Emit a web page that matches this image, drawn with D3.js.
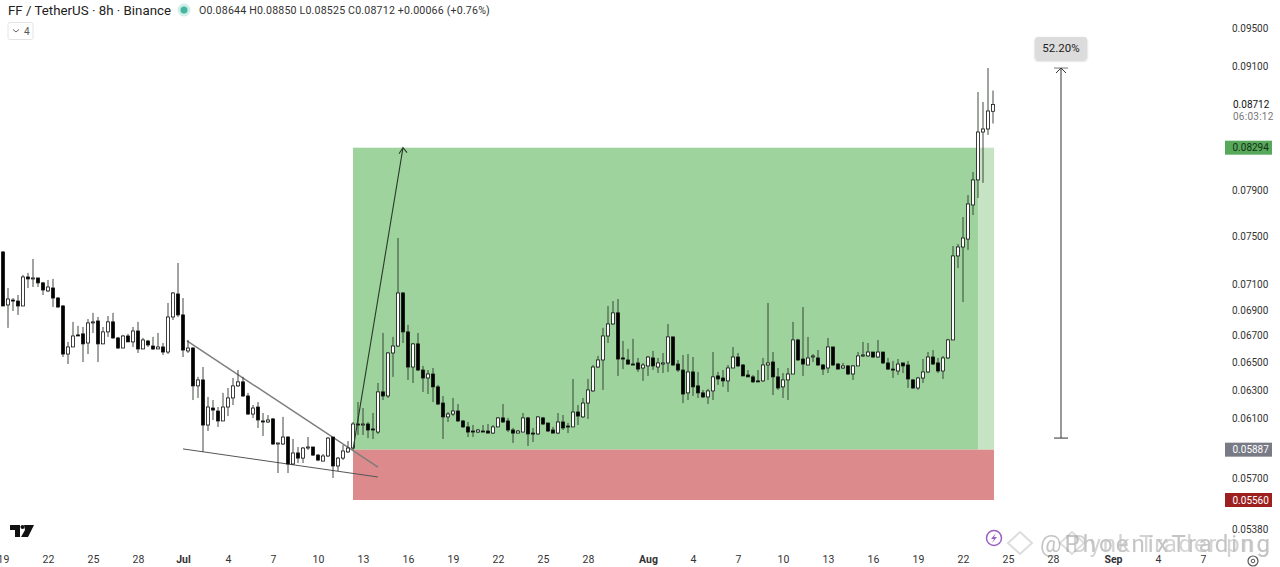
<!DOCTYPE html>
<html>
<head>
<meta charset="utf-8">
<script src="https://cdn.jsdelivr.net/npm/d3@7"></script>
<style>
  html, body { margin: 0; padding: 0; background: #fff; }
  svg { display: block; }
  text { font-family: Roboto, "Noto Sans", sans-serif; }
</style>
</head>
<body>
<svg id="chart" width="1280" height="567"></svg>
<script>
// candles, 8h each from 19 Jun, prices in 1/100000 USDT
let opens = [
  7368,6938,6977,6969,6930,7162,7146,7154,7114,7049,
  7073,6993,6930,6562,6615,6706,6714,6645,6798,6813,
  6638,6729,6806,6683,6607,6698,6653,6736,6600,6660,
  6622,6600,6615,6577,6844,7025,6860,6585,6607,6329,
  6372,6054,6172,6151,6082,6179,6243,6329,6358,6257,
  6130,6179,6082,6075,6096,5925,5925,5972,5792,5865,
  5831,5898,5905,5851,5811,5845,5972,5779,5831,5872,
  5898,6061,6054,6061,6027,6006,6286,6257,6570,6622,
  7033,6729,6466,6638,6444,6386,6415,6322,6207,6110,
  6130,6151,6082,6041,6013,6006,6013,6013,5999,6041,
  6103,6082,6020,5999,6006,6103,5999,5993,6103,6068,
  6020,5999,6075,6047,6041,6144,6110,6207,6293,6466,
  6518,6698,6790,6876,6533,6518,6488,6496,6459,6474,
  6533,6466,6488,6496,6691,6488,6444,6279,6430,6329,
  6279,6250,6293,6401,6386,6365,6459,6540,6481,6408,
  6394,6365,6365,6481,6503,6394,6322,6372,6415,6668,
  6525,6481,6540,6533,6481,6459,6615,6488,6459,6474,
  6415,6474,6548,6548,6577,6540,6577,6496,6451,6437,
  6496,6481,6372,6314,6386,6430,6540,6496,6437,6533,
  6668,7335,7410,7477,7772,7996,8443,8472,8644
]
let highs = [
  7377,7073,6993,7017,7179,7195,7310,7154,7122,7138,
  7146,7001,6938,6653,6806,6775,6767,6829,6876,6844,
  6767,6852,6876,6691,6706,6714,6767,6806,6683,6668,
  6691,6721,6645,6954,7041,7277,6993,6668,6615,6394,
  6466,6250,6228,6179,6279,6314,6386,6444,6394,6279,
  6193,6214,6137,6123,6103,5932,6110,5979,5959,5905,
  5905,5972,5905,5858,5858,5972,5972,5838,5918,5945,
  6075,6214,6172,6075,6137,6350,6721,6577,6691,7486,
  7041,6783,6645,6721,6474,6444,6459,6336,6257,6144,
  6243,6200,6089,6075,6054,6027,6054,6061,6054,6110,
  6200,6103,6034,6020,6137,6110,6034,6116,6110,6068,
  6041,6137,6123,6068,6379,6193,6243,6379,6481,6548,
  6760,6930,6969,6985,6660,6600,6676,6533,6496,6548,
  6585,6533,6570,6790,6691,6518,6555,6562,6540,6430,
  6300,6307,6577,6430,6444,6481,6615,6570,6488,6444,
  6408,6444,6533,6954,6577,6459,6422,6459,6806,6676,
  6922,6691,6562,6592,6488,6683,6615,6496,6496,6481,
  6481,6577,6653,6645,6577,6668,6577,6533,6511,6525,
  6496,6511,6379,6394,6525,6577,6592,6533,6548,6676,
  7418,7435,7666,7860,8069,8835,8736,9079,8850
]
let lows = [
  6930,6760,6891,6860,6930,7073,7081,7081,7017,7041,
  6922,6915,6540,6488,6615,6698,6503,6562,6721,6503,
  6638,6691,6676,6600,6607,6653,6615,6570,6600,6615,
  6592,6600,6555,6562,6821,6844,6540,6570,6228,6243,
  5872,6013,6089,6041,6082,6116,6193,6322,6250,6123,
  6103,6034,5979,6068,5918,5733,5918,5733,5785,5798,
  5798,5885,5845,5811,5811,5838,5701,5746,5818,5865,
  5892,5986,5986,5965,5959,5993,6228,6243,6394,6615,
  6645,6372,6350,6437,6286,6271,6214,6193,5959,6075,
  6116,6075,6034,5972,5972,5999,6006,5999,5993,6041,
  6068,6006,5932,5999,6006,5912,5938,5986,6054,6006,
  5999,5993,6020,5999,6041,6054,6103,6096,6286,6459,
  6300,6645,6783,6401,6451,6481,6481,6430,6365,6401,
  6444,6422,6422,6430,6474,6430,6207,6228,6257,6243,
  6243,6200,6228,6336,6322,6286,6459,6466,6401,6394,
  6350,6358,6358,6372,6264,6300,6243,6228,6415,6511,
  6401,6481,6503,6474,6408,6422,6474,6451,6451,6408,
  6372,6474,6540,6540,6533,6533,6488,6444,6386,6408,
  6422,6314,6307,6300,6350,6422,6481,6422,6379,6525,
  6668,7235,6961,7385,7684,7834,7969,8415,8525
]
let closes = [
  6930,6985,6969,6930,7162,7146,7154,7114,7057,7081,
  6993,6922,6562,6615,6698,6698,6638,6798,6806,6638,
  6729,6806,6683,6607,6698,6653,6736,6600,6668,6630,
  6600,6615,6577,6844,7033,6860,6592,6607,6329,6372,
  6054,6179,6158,6082,6179,6243,6329,6358,6257,6130,
  6172,6089,6075,6089,5925,5932,5972,5792,5865,5831,
  5898,5905,5851,5818,5845,5965,5779,5831,5878,5898,
  6061,6054,6061,6020,6020,6286,6257,6570,6622,7033,
  6729,6466,6638,6444,6386,6415,6322,6200,6110,6130,
  6151,6082,6041,6006,6006,6020,6006,5999,6041,6103,
  6075,6020,5999,6013,6103,5993,5993,6110,6061,6013,
  5999,6075,6034,6041,6144,6116,6207,6300,6466,6518,
  6698,6790,6876,6525,6525,6488,6481,6451,6481,6540,
  6474,6496,6496,6691,6481,6444,6271,6430,6322,6279,
  6250,6293,6394,6379,6365,6459,6540,6474,6401,6394,
  6358,6358,6481,6496,6394,6314,6372,6415,6668,6518,
  6488,6533,6548,6481,6451,6615,6481,6451,6474,6415,
  6474,6548,6555,6577,6540,6577,6496,6451,6444,6488,
  6474,6379,6314,6386,6430,6540,6488,6437,6533,6668,
  7335,7410,7486,7781,7996,8443,8472,8647,8712
]

let startDate = new Date(Date.UTC(2025, 5, 19))
let endDate = new Date(Date.UTC(2025, 8, 7))
let candleHours = 8

let xTickDates = ["2025-06-19","2025-06-22","2025-06-25","2025-06-28","2025-07-01","2025-07-04","2025-07-07","2025-07-10","2025-07-13","2025-07-16","2025-07-19","2025-07-22","2025-07-25","2025-07-28","2025-08-01","2025-08-04","2025-08-07","2025-08-10","2025-08-13","2025-08-16","2025-08-19","2025-08-22","2025-08-25","2025-08-28","2025-09-01","2025-09-04","2025-09-07"]
let xTickLabels = ["19","22","25","28","Jul","4","7","10","13","16","19","22","25","28","Aug","4","7","10","13","16","19","22","25","28","Sep","4","7"]
let yTicks = [0.095,0.091,0.079,0.075,0.071,0.069,0.067,0.065,0.063,0.061,0.057,0.0538]

// position tool levels
let targetPrice = 0.08294, entryPrice = 0.05887, stopPrice = 0.0556
let toolStart = 70, toolSplit = 195.1, toolEnd = 198.2
// wedge + arrows, [candle index, price]
let wedgeTop = [[36.8,0.0666],[75,0.05772]]
let wedgeBottom = [[36,0.05892],[75,0.05707]]
let projection = [[70,0.05887],[80,0.08294]]
let measure = { at: 211.6, from: 0.05965, to: 0.09079, label: "52.20%" }

let svg = d3.select("#chart")

let x = d3.scaleUtc().domain([startDate, endDate]).range([3, 1203])
let y = d3.scaleLog().domain([0.091, 0.0538]).range([66, 529])
let xi = i => x(new Date(startDate.getTime() + i * candleHours * 3600e3))

let candles = d3.range(opens.length).map(i => ({
  i: i, o: opens[i] / 1e5, h: highs[i] / 1e5, l: lows[i] / 1e5, c: closes[i] / 1e5
}))

// long position zones
let zones = [
  { a: toolStart, b: toolSplit, top: targetPrice, bottom: entryPrice, fill: "#9ed39e" },
  { a: toolSplit, b: toolEnd, top: targetPrice, bottom: entryPrice, fill: "#c6e4c3" },
  { a: toolStart, b: toolEnd, top: entryPrice, bottom: stopPrice, fill: "#dc8a8b" }
]
svg.append("g").selectAll("rect").data(zones).enter().append("rect")
  .attr("x", d => xi(d.a))
  .attr("width", d => xi(d.b) - xi(d.a))
  .attr("y", d => y(d.top))
  .attr("height", d => y(d.bottom) - y(d.top))
  .attr("fill", d => d.fill)

let priceLine = d3.line().x(d => xi(d[0])).y(d => y(d[1]))

svg.append("path").attr("d", priceLine(wedgeTop))
  .attr("fill", "none").attr("stroke", "#7d7d7d").attr("stroke-width", 1.5)
svg.append("path").attr("d", priceLine(wedgeBottom))
  .attr("fill", "none").attr("stroke", "#555").attr("stroke-width", 1)

let candle = svg.append("g").selectAll("g.candle").data(candles).enter().append("g").attr("class", "candle")
candle.append("line")
  .attr("x1", d => xi(d.i)).attr("x2", d => xi(d.i))
  .attr("y1", d => y(d.h)).attr("y2", d => y(d.l))
  .attr("stroke", "#2a352a").attr("stroke-width", 0.9)
candle.append("rect")
  .attr("x", d => xi(d.i) - 1.5)
  .attr("width", 3)
  .attr("y", d => y(Math.max(d.o, d.c)))
  .attr("height", d => Math.max(1, Math.abs(y(d.o) - y(d.c))))
  .attr("fill", d => d.c >= d.o ? "#fff" : "#000")
  .attr("stroke", "#111").attr("stroke-width", 0.8)

// projection arrow
svg.append("path").attr("d", priceLine(projection))
  .attr("fill", "none").attr("stroke", "#2a3a2a").attr("stroke-width", 1.1)
let tipX = xi(projection[1][0]), tipY = y(projection[1][1])
svg.append("path")
  .attr("d", `M${tipX - 4},${tipY + 6}L${tipX},${tipY}L${tipX + 4},${tipY + 5}`)
  .attr("fill", "none").attr("stroke", "#2a3a2a").attr("stroke-width", 1.1)

// measure tool
let mx = xi(measure.at), myTop = y(measure.to), myBottom = y(measure.from)
let measureG = svg.append("g").attr("stroke", "#333").attr("fill", "none")
measureG.append("line").attr("x1", mx).attr("x2", mx).attr("y1", myTop).attr("y2", myBottom).attr("stroke-width", 1)
measureG.append("line").attr("x1", mx - 7).attr("x2", mx + 7).attr("y1", myTop).attr("y2", myTop).attr("stroke", "#777")
measureG.append("line").attr("x1", mx - 7).attr("x2", mx + 7).attr("y1", myBottom).attr("y2", myBottom)
measureG.append("path").attr("d", `M${mx - 5},${myTop + 5}L${mx},${myTop}L${mx + 5},${myTop + 5}`)

svg.append("defs").append("filter").attr("id", "soft")
  .attr("x", "-20%").attr("y", "-20%").attr("width", "140%").attr("height", "140%")
  .append("feDropShadow").attr("dx", 0).attr("dy", 1).attr("stdDeviation", 1.2)
  .attr("flood-color", "#000").attr("flood-opacity", 0.22)
svg.append("rect").attr("x", mx - 26).attr("y", 37).attr("width", 52).attr("height", 23).attr("rx", 3)
  .attr("fill", "#dcdcdc").attr("filter", "url(#soft)")
svg.append("text").attr("x", mx).attr("y", 52).attr("text-anchor", "middle")
  .attr("font-size", 11.5).attr("fill", "#222").text(measure.label)

// price axis
let yAxis = d3.axisRight(y).tickValues(yTicks).tickSize(0).tickFormat(d => d.toFixed(5))
let yAxisG = svg.append("g").attr("transform", "translate(1224,0)").call(yAxis)
yAxisG.select(".domain").remove()
yAxisG.selectAll("text").attr("x", 8).attr("font-size", 10).attr("fill", "#333")
  .style("font-family", "Roboto, sans-serif")

// price tags
let tags = [
  { price: targetPrice, fill: "#58a85c", color: "#123212" },
  { price: entryPrice, fill: "#787b86", color: "#fff" },
  { price: stopPrice, fill: "#9c2020", color: "#fff" }
]
let tag = svg.append("g").selectAll("g").data(tags).enter().append("g")
tag.append("rect").attr("x", 1225).attr("width", 47).attr("height", 14)
  .attr("y", d => y(d.price) - 7).attr("fill", d => d.fill)
tag.append("text").attr("x", 1232.5).attr("y", d => y(d.price) + 3.5)
  .attr("font-size", 10).attr("fill", d => d.color).text(d => d.price.toFixed(5))

let lastPrice = closes[closes.length - 1] / 1e5
svg.append("text").attr("x", 1233).attr("y", y(lastPrice) + 3.5)
  .attr("font-size", 10).attr("fill", "#111").text(lastPrice.toFixed(5))
svg.append("text").attr("x", 1233).attr("y", y(lastPrice) + 16)
  .attr("font-size", 10).attr("letter-spacing", 0.25).attr("fill", "#777").text("06:03:12")

// time axis
let xAxis = d3.axisBottom(x)
  .tickValues(xTickDates.map(d => new Date(d + "T00:00:00Z")))
  .tickSize(0)
  .tickFormat((d, i) => xTickLabels[i])
let xAxisG = svg.append("g").attr("transform", "translate(0,549)").call(xAxis)
xAxisG.select(".domain").remove()
xAxisG.selectAll("text").attr("y", 7).attr("font-size", 10.5).attr("fill", "#333")
  .style("font-family", "Roboto, sans-serif")
  .style("font-weight", (d, i) => isNaN(+xTickLabels[i]) ? "700" : "400")

// header
svg.append("text").attr("x", 8).attr("y", 15).attr("font-size", 13.3).attr("fill", "#222")
  .text("FF / TetherUS · 8h · Binance")
svg.append("circle").attr("cx", 184).attr("cy", 10).attr("r", 6.5).attr("fill", "#cfeee8")
svg.append("circle").attr("cx", 184).attr("cy", 10).attr("r", 3.5).attr("fill", "#45b5a0")
svg.append("text").attr("x", 199).attr("y", 14).attr("font-size", 10.6).attr("fill", "#333")
  .attr("letter-spacing", 0.19)
  .text("O0.08644 H0.08850 L0.08525 C0.08712 +0.00066 (+0.76%)")
svg.append("rect").attr("x", 8).attr("y", 22.5).attr("width", 25).attr("height", 17).attr("rx", 2)
  .attr("fill", "#fff").attr("stroke", "#e4e4e4")
svg.append("path").attr("d", "M13,29.5L16,32L19,29.5").attr("fill", "none").attr("stroke", "#666")
svg.append("text").attr("x", 24).attr("y", 35).attr("font-size", 10).attr("fill", "#555").text("4")

// tradingview mark
svg.append("path").attr("d", "M10,525H20V537H15V530H10ZM24,525H34L28,537H21L25,530Z").attr("fill", "#111")
svg.append("circle").attr("cx", 22.5).attr("cy", 527).attr("r", 2).attr("fill", "#111")

// replay + settings icons
svg.append("circle").attr("cx", 994).attr("cy", 538).attr("r", 7.5).attr("fill", "#fff").attr("stroke", "#9a5fc4").attr("stroke-width", 1.5)
svg.append("path").attr("d", "M996,533L991,539H994L992,543L997,537H994Z").attr("fill", "#9a5fc4")
svg.append("circle").attr("cx", 1253).attr("cy", 561).attr("r", 5).attr("fill", "none").attr("stroke", "#555").attr("stroke-width", 1.2)
svg.append("circle").attr("cx", 1253).attr("cy", 561).attr("r", 1.8).attr("fill", "none").attr("stroke", "#555")

// doubled watermark
svg.append("g").selectAll("path").data([1020, 1072]).enter().append("path")
  .attr("d", d => `M${d},532L${d + 12},543L${d},554L${d - 12},543Z`)
  .attr("fill", "none").attr("stroke", "#ddd").attr("stroke-width", 2)
let wm = svg.append("g").attr("fill", "#8a8a8a").attr("opacity", 0.5).attr("font-size", 24)
wm.append("text").attr("x", 1040).attr("y", 552).attr("textLength", 230).text("@PhoenixTrading")
wm.append("text").attr("x", 1072).attr("y", 552).attr("textLength", 198).attr("opacity", 0.75).text("Dynk Trader png")
</script>
</body>
</html>
